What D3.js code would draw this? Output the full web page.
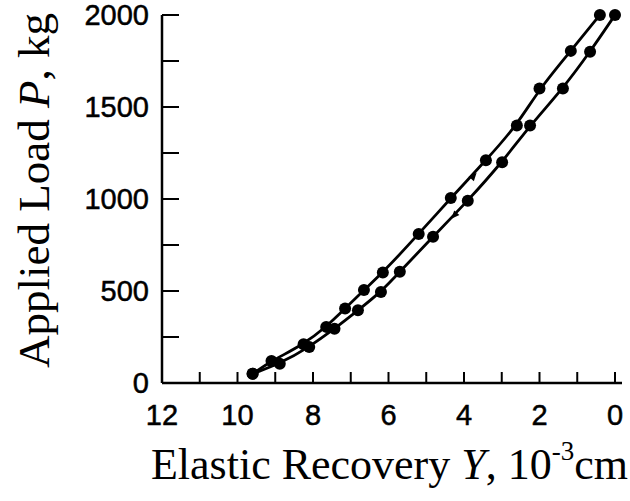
<!DOCTYPE html>
<html>
<head>
<meta charset="utf-8">
<script src="https://cdn.jsdelivr.net/npm/d3@7"></script>
<style>
  html, body { margin: 0; padding: 0; background: #fff; }
  svg { display: block; }
</style>
</head>
<body>
<svg id="chart" width="630" height="501"></svg>
<script>
// Load–recovery data (Y in 10^-3 cm, P in kg)
const loadingY = [9.6, 9.1, 8.25, 7.65, 7.15, 6.65, 6.15, 5.2, 4.35, 3.42, 2.6, 2.0, 1.17, 0.4];
const loadingP = [50, 120, 210, 305, 405, 505, 600, 810, 1005, 1210, 1400, 1600, 1805, 2000];
const unloadingY = [9.6, 8.88, 8.1, 7.43, 6.81, 6.2, 5.7, 4.82, 3.9, 2.99, 2.25, 1.38, 0.66, 0.0];
const unloadingP = [50, 105, 195, 295, 395, 495, 605, 795, 990, 1200, 1400, 1600, 1800, 2000];

const xTickValues = [12, 10, 8, 6, 4, 2, 0];
const xMinorTicks = d3.range(0, 13, 1);
const yTickValues = [0, 500, 1000, 1500, 2000];
const yMinorTicks = d3.range(0, 2001, 250);

// direction marks on each branch: [Y, P]
const arrowMarks = [[3.72, 1130], [4.28, 905]];

const svg = d3.select("#chart");
const plotLeft = 162, plotRight = 615, plotTop = 15, plotBottom = 383;

const x = d3.scaleLinear().domain([12, 0]).range([plotLeft, plotRight]);
const y = d3.scaleLinear().domain([0, 2000]).range([plotBottom, plotTop]);

const ink = "#000";

// axes lines
svg.append("line").attr("x1", plotLeft).attr("x2", plotRight + 7).attr("y1", plotBottom).attr("y2", plotBottom)
  .attr("stroke", ink).attr("stroke-width", 2.5);
svg.append("line").attr("x1", plotLeft).attr("x2", plotLeft).attr("y1", plotTop).attr("y2", plotBottom)
  .attr("stroke", ink).attr("stroke-width", 2.5);

// x ticks pointing up into the plot
svg.append("g").selectAll("line").data(xMinorTicks).join("line")
  .attr("x1", d => x(d)).attr("x2", d => x(d))
  .attr("y1", plotBottom).attr("y2", plotBottom - 11)
  .attr("stroke", ink).attr("stroke-width", 2);

// y ticks pointing right into the plot
svg.append("g").selectAll("line").data(yMinorTicks).join("line")
  .attr("x1", plotLeft).attr("x2", plotLeft + 17)
  .attr("y1", d => y(d)).attr("y2", d => y(d))
  .attr("stroke", ink).attr("stroke-width", 2);

// tick labels
const sans = "Liberation Sans, Arial, sans-serif";
svg.append("g").selectAll("text").data(xTickValues).join("text")
  .attr("x", d => x(d)).attr("y", 425)
  .attr("text-anchor", "middle")
  .attr("font-family", sans)
  .attr("font-size", 29)
  .attr("fill", ink).attr("stroke", ink).attr("stroke-width", 0.5)
  .text(d => d);

svg.append("g").selectAll("text").data(yTickValues).join("text")
  .attr("x", 149).attr("y", d => y(d))
  .attr("dy", "0.36em")
  .attr("text-anchor", "end")
  .attr("font-family", sans)
  .attr("font-size", 29)
  .attr("fill", ink).attr("stroke", ink).attr("stroke-width", 0.5)
  .text(d => d);

// axis titles
const serif = "Liberation Serif, Times New Roman, serif";
const xt = svg.append("text")
  .attr("x", 628).attr("y", 479)
  .attr("text-anchor", "end")
  .attr("font-family", serif).attr("font-size", 44).attr("fill", ink);
xt.append("tspan").text("Elastic Recovery ");
xt.append("tspan").attr("font-style", "italic").text("Y");
xt.append("tspan").text(", 10");
xt.append("tspan").attr("font-size", 27).attr("dy", -19).text("-3");
xt.append("tspan").attr("dy", 19).text("cm");

const yt = svg.append("text")
  .attr("transform", "translate(49,368) rotate(-90)")
  .attr("text-anchor", "start")
  .attr("font-family", serif).attr("font-size", 45).attr("fill", ink);
yt.append("tspan").text("Applied Load ");
yt.append("tspan").attr("font-style", "italic").text("P");
yt.append("tspan").text(", kg");

// smoothed curves through the measured points
const line = d3.line()
  .x(d => x(d[0])).y(d => y(d[1]))
  .curve(d3.curveBasis);

const series = [
  d3.zip(loadingY, loadingP),
  d3.zip(unloadingY, unloadingP)
];

series.forEach(pts => {
  svg.append("path").datum(pts)
    .attr("d", line)
    .attr("fill", "none").attr("stroke", ink).attr("stroke-width", 2.8);
  svg.append("g").selectAll("circle").data(pts).join("circle")
    .attr("cx", d => x(d[0])).attr("cy", d => y(d[1]))
    .attr("r", 6).attr("fill", ink);
});

// small arrowheads on the branches
svg.append("g").selectAll("path").data(arrowMarks).join("path")
  .attr("d", "M-5,-3.5 L3,0 L-5,3.5 Z")
  .attr("transform", (d, i) => {
    const ang = i === 0 ? -48 : 132;
    return `translate(${x(d[0])},${y(d[1])}) rotate(${ang})`;
  })
  .attr("fill", ink);
</script>
</body>
</html>
